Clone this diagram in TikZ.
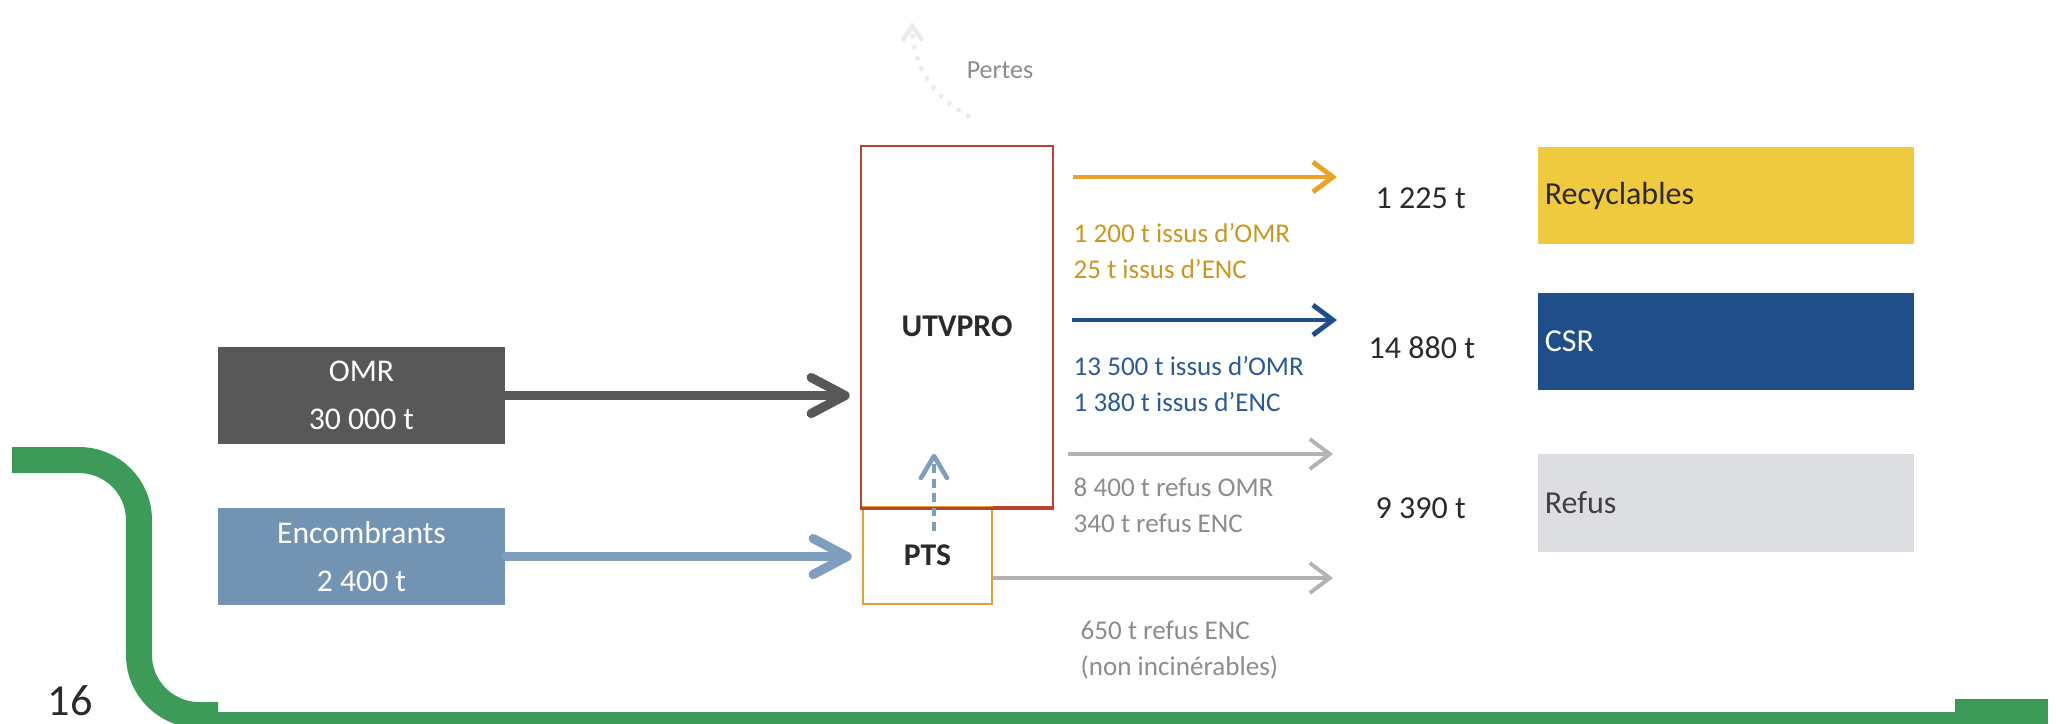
\documentclass[tikz,border=0pt]{standalone}
\usepackage{fontspec}
\setmainfont{Carlito}
\usetikzlibrary{arrows.meta,positioning}

\definecolor{omrgray}{HTML}{585858}
\definecolor{encblue}{HTML}{7393B3}
\definecolor{encarrow}{HTML}{7F9DBC}
\definecolor{utvred}{HTML}{B8432F}
\definecolor{ptsorange}{HTML}{E0A038}
\definecolor{recorange}{HTML}{E9A427}
\definecolor{rectext}{HTML}{C9981E}
\definecolor{csrblue}{HTML}{1F4E8A}
\definecolor{csrtext}{HTML}{2C5A95}
\definecolor{refgray}{HTML}{B3B3B3}
\definecolor{reftext}{HTML}{8C8C8C}
\definecolor{recyellow}{HTML}{EFC93E}
\definecolor{refbox}{HTML}{DDDEE2}
\definecolor{bandgreen}{HTML}{3E9A58}
\definecolor{inktext}{HTML}{2A2A2A}

\tikzset{
  inbox/.style={fill=#1, text=white, minimum width=2.87cm, minimum height=0.97cm,
    align=center, inner sep=0pt, font=\fontsize{9}{13.5}\selectfont},
  outbox/.style={fill=#1, minimum width=3.76cm, minimum height=0.97cm, text width=3.62cm,
    align=left, inner sep=0pt, font=\fontsize{9.1}{10}\selectfont},
  plant/.style={draw=#1, line width=0.7pt, inner sep=0pt, text=inktext,
    font=\fontsize{9}{11}\selectfont\bfseries},
  feed/.style={draw=#1, line width=2.6pt, line cap=round,
    -{Straight Barb[length=3.4mm,width=3.6mm,round]}},
  flow/.style={draw=#1, line width=1.4pt, -{Straight Barb[length=2mm,width=3mm]}},
  flowlabel/.style={text=#1, anchor=west, align=left, inner sep=0pt,
    font=\fontsize{7.7}{10.2}\selectfont},
  amount/.style={anchor=west, inner sep=0pt, text=inktext, font=\fontsize{9.1}{10}\selectfont},
  band/.style={draw=bandgreen, line width=0.26cm},
}

\begin{document}
\begin{tikzpicture}[x=0.01cm,y=-0.01cm]
  \useasboundingbox (0,0) rectangle (2056,723);
  % green page band
  \draw[band, rounded corners=6mm] (12,460) -| (139,715) -- (218,715);
  \fill[bandgreen] (218,712) rectangle (1955,750);
  \fill[bandgreen] (1955,699) rectangle (2048,750);
  \node[text=inktext, font=\fontsize{12.6}{14}\selectfont] (page) at (70,701) {16};

  % inputs
  \node[inbox=omrgray] (omr) at (361.5,395.5) {OMR\\30 000 t};
  \node[inbox=encblue] (enc) at (361.5,556.5) {Encombrants\\2 400 t};

  % plants
  \node[plant=utvred, minimum width=1.92cm, minimum height=3.61cm] (utv) at (957,326.5) {\raisebox{-0.04cm}{UTVPRO}};
  \node[plant=ptsorange, minimum width=1.29cm, minimum height=0.97cm] (pts) at (927.5,555.5) {PTS};
  \draw[utvred, line width=0.7pt] (utv.south west) -- (utv.south east);

  % losses
  \node[text=reftext, font=\fontsize{7.4}{9}\selectfont] (pertes) at (1000,70) {Pertes};
  \coordinate (loss-a) at (970,117);
  \coordinate (loss-b) at (912,22);
  \draw[black!8, line width=1.2pt, dotted, -{Straight Barb[length=1.5mm,width=2mm]}]
    (loss-a) to[bend left=30] (loss-b);

  % feeds
  \draw[feed=omrgray] (omr.east) -- ([xshift=-0.1cm]utv.west |- omr.east);
  \draw[feed=encarrow] (enc.east) -- ([xshift=-0.1cm]pts.west |- enc.east);
  \draw[encarrow, line width=1.3pt, dash pattern=on 2.5pt off 1.6pt,
    -{Straight Barb[length=2.2mm,width=2.6mm,round]}]
    ([xshift=0.065cm,yshift=-0.25cm]pts.north) -- ([xshift=0.065cm,yshift=0.52cm]pts.north);

  % outputs
  \coordinate (rec-in) at (1073,177);  \coordinate (rec-out) at (1337,177);
  \coordinate (csr-in) at (1072,320);  \coordinate (csr-out) at (1337,320);
  \coordinate (ref-in) at (1068,454);  \coordinate (ref-out) at (1333,454);
  \coordinate (nci-out) at (1333,578);
  \draw[flow=recorange] (rec-in) -- (rec-out);
  \draw[flow=csrblue] (csr-in) -- (csr-out);
  \draw[flow=refgray, line width=1.1pt] (ref-in) -- (ref-out);
  \draw[flow=refgray, line width=1.1pt] (pts.east |- nci-out) -- (nci-out);

  \node[flowlabel=rectext] (rec-lbl) at (1073,251) {1 200 t issus d'OMR\\25 t issus d'ENC};
  \node[flowlabel=csrtext] (csr-lbl) at (1073,384) {13 500 t issus d'OMR\\1 380 t issus d'ENC};
  \node[flowlabel=reftext] (ref-lbl) at (1073,505) {8 400 t refus OMR\\340 t refus ENC};
  \node[flowlabel=reftext] (nci-lbl) at (1080,650) {650 t refus ENC\\(non incinérables)};

  % totals
  \node[amount] (rec-t) at (1375,198) {1 225 t};
  \node[amount] (csr-t) at (1368,348) {14 880 t};
  \node[amount] (ref-t) at (1375,508) {9 390 t};

  % destinations
  \node[outbox=recyellow, text=inktext] (rec) at (1726,195.5) {Recyclables};
  \node[outbox=csrblue, text=white] (csr) at (1726,341.5) {CSR};
  \node[outbox=refbox, text=black!75] (ref) at (1726,503) {Refus};
\end{tikzpicture}
\end{document}
